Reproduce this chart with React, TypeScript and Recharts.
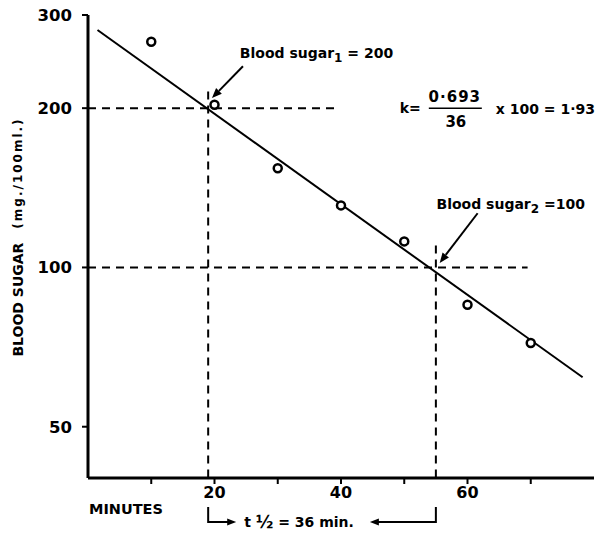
import { ComposedChart, Scatter, Line, XAxis, YAxis, ReferenceLine, ReferenceDot } from 'recharts';

// observed blood sugar after the load
const minutes = [10, 20, 30, 40, 50, 60, 70];
const bloodSugar = [267, 203, 154, 131, 112, 85, 72];

// fitted straight line (ends as drawn)
const fitMinutes = [1.5, 78.2];
const fitSugar = [281, 62];

// half-life read-off
const t1 = 19;
const t2 = 55;
const sugar1 = 200;
const sugar2 = 100;
const halfLife = 36;
const kText = { num: '0·693', den: '36', rest: 'x 100 = 1·93' };

const xTicks = [10, 20, 30, 40, 50, 60, 70];
const xLabelled = [20, 40, 60];
const yTicks = [50, 100, 200, 300];

const points = minutes.map((m, i) => ({ min: m, sugar: bloodSugar[i] }));
const fitLine = fitMinutes.map((m, i) => ({ min: m, sugar: fitSugar[i] }));

const FONT = '"DejaVu Sans", sans-serif';
const INK = '#000';

function OpenCircle(p: any) {
  return <circle cx={p.cx} cy={p.cy} r={4} fill="#fff" stroke={INK} strokeWidth={2.5} />;
}

function Arrow(p: any) {
  const { x1, y1, x2, y2 } = p;
  const a = Math.atan2(y2 - y1, x2 - x1);
  const L = 10, W = 4;
  const bx = x2 - L * Math.cos(a);
  const by = y2 - L * Math.sin(a);
  const pts = `${x2},${y2} ${bx + W * Math.sin(a)},${by - W * Math.cos(a)} ${bx - W * Math.sin(a)},${by + W * Math.cos(a)}`;
  return (
    <g>
      <line x1={x1} y1={y1} x2={bx} y2={by} stroke={INK} strokeWidth={2} />
      <polygon points={pts} fill={INK} />
    </g>
  );
}

// bracket under the axis between t1 and t2
function HalfLifeBracket(p: any) {
  const { x1, y1, x2 } = p;
  const top = y1 + 29;
  const yb = y1 + 44;
  return (
    <g fontFamily={FONT} fontWeight={700}>
      <polyline points={`${x1},${top} ${x1},${yb} ${x1 + 20},${yb}`} fill="none" stroke={INK} strokeWidth={2} />
      <polygon points={`${x1 + 28},${yb} ${x1 + 19},${yb - 3.5} ${x1 + 19},${yb + 3.5}`} fill={INK} />
      <text x={x1 + 36} y={yb} dominantBaseline="central" fontSize={14} fill={INK}>
        t <tspan fontSize={17}>½</tspan> = {halfLife} min.
      </text>
      <polyline points={`${x2 - 58},${yb} ${x2},${yb} ${x2},${top}`} fill="none" stroke={INK} strokeWidth={2} />
      <polygon points={`${x2 - 66},${yb} ${x2 - 57},${yb - 3.5} ${x2 - 57},${yb + 3.5}`} fill={INK} />
    </g>
  );
}

function noteShape(main: string, sub: string, tail: string) {
  return (p: any) => (
    <text x={p.cx} y={p.cy} dominantBaseline="central" fontFamily={FONT} fontWeight={700} fontSize={14} fill={INK}>
      {main}
      <tspan fontSize={12} dy={5}>{sub}</tspan>
      <tspan dy={-5}>{tail}</tspan>
    </text>
  );
}

function Formula(p: any) {
  const { cx, cy } = p;
  return (
    <g fontFamily={FONT} fontWeight={700} fontSize={14} fill={INK}>
      <text x={cx} y={cy} dominantBaseline="central">k=</text>
      <text x={cx + 55} y={cy - 11} dominantBaseline="central" textAnchor="middle" fontSize={15} letterSpacing={1}>{kText.num}</text>
      <line x1={cx + 29} x2={cx + 82} y1={cy} y2={cy} stroke={INK} strokeWidth={1.5} />
      <text x={cx + 56} y={cy + 14} dominantBaseline="central" textAnchor="middle" fontSize={15}>{kText.den}</text>
      <text x={cx + 96} y={cy + 1} dominantBaseline="central">{kText.rest}</text>
    </g>
  );
}

function YTitle(p: any) {
  const vb = p.viewBox;
  const x = vb.x + 18;
  const y = vb.y + 222;
  return (
    <text x={x} y={y} transform={`rotate(-90, ${x}, ${y})`} textAnchor="middle" dominantBaseline="central"
      fontFamily={FONT} fontWeight={700} fill={INK}>
      <tspan fontSize={14}>BLOOD SUGAR</tspan>
      <tspan fontSize={12} dx={14} letterSpacing={2}>(mg./100ml.)</tspan>
    </text>
  );
}

function XTitle(p: any) {
  const vb = p.viewBox;
  return (
    <text x={vb.x + 1} y={vb.y + 31} dominantBaseline="central" fontFamily={FONT} fontWeight={700} fontSize={14.5} fill={INK}>
      MINUTES
    </text>
  );
}

const dash = '8 6';

export default function App() {
  return (
    <div style={{ position: 'absolute', left: 0, top: 0, width: 596, height: 533, background: '#fff' }}>
      <ComposedChart width={596} height={533} margin={{ top: 15, right: 2, bottom: 0, left: 0 }}>
        <XAxis
          type="number"
          dataKey="min"
          domain={[0, 80]}
          ticks={xTicks}
          tickFormatter={(v: number) => (xLabelled.includes(v) ? String(v) : '')}
          allowDataOverflow
          height={55}
          tickSize={6}
          tickMargin={3}
          axisLine={{ stroke: INK, strokeWidth: 3 }}
          tickLine={{ stroke: INK, strokeWidth: 2 }}
          tick={{ fill: INK, fontSize: 16, fontWeight: 700, fontFamily: FONT }}
          label={XTitle}
        />
        <YAxis
          type="number"
          dataKey="sugar"
          scale="log"
          domain={[40, 300]}
          ticks={yTicks}
          allowDataOverflow
          width={88}
          tickSize={6}
          tickMargin={10}
          axisLine={{ stroke: INK, strokeWidth: 3 }}
          tickLine={{ stroke: INK, strokeWidth: 2 }}
          tick={{ fill: INK, fontSize: 16.5, fontWeight: 700, fontFamily: FONT }}
          label={YTitle}
        />

        <ReferenceLine segment={[{ x: 0, y: sugar1 }, { x: 39.5, y: sugar1 }]} stroke={INK} strokeWidth={2} strokeDasharray={dash} ifOverflow="visible" />
        <ReferenceLine segment={[{ x: 0, y: sugar2 }, { x: 69.5, y: sugar2 }]} stroke={INK} strokeWidth={2} strokeDasharray={dash} ifOverflow="visible" />
        <ReferenceLine segment={[{ x: t1, y: 215 }, { x: t1, y: 40 }]} stroke={INK} strokeWidth={2} strokeDasharray={dash} ifOverflow="visible" />
        <ReferenceLine segment={[{ x: t2, y: 110 }, { x: t2, y: 40 }]} stroke={INK} strokeWidth={2} strokeDasharray={dash} ifOverflow="visible" />

        <Line data={fitLine} dataKey="sugar" stroke={INK} strokeWidth={2} dot={false} isAnimationActive={false} />
        <Scatter data={points} dataKey="sugar" shape={OpenCircle} isAnimationActive={false} />

        <ReferenceLine segment={[{ x: 24.5, y: 240 }, { x: 19.6, y: 209 }]} shape={Arrow} ifOverflow="visible" />
        <ReferenceLine segment={[{ x: 61.6, y: 126.6 }, { x: 55.6, y: 102 }]} shape={Arrow} ifOverflow="visible" />
        <ReferenceLine segment={[{ x: t1, y: 40 }, { x: t2, y: 40 }]} shape={HalfLifeBracket} ifOverflow="visible" />

        <ReferenceDot x={24} y={254} r={0} shape={noteShape('Blood sugar', '1', ' = 200')} ifOverflow="visible" />
        <ReferenceDot x={55.1} y={132} r={0} shape={noteShape('Blood sugar', '2', ' =100')} ifOverflow="visible" />
        <ReferenceDot x={49.3} y={200} r={0} shape={Formula} ifOverflow="visible" />
      </ComposedChart>
    </div>
  );
}
